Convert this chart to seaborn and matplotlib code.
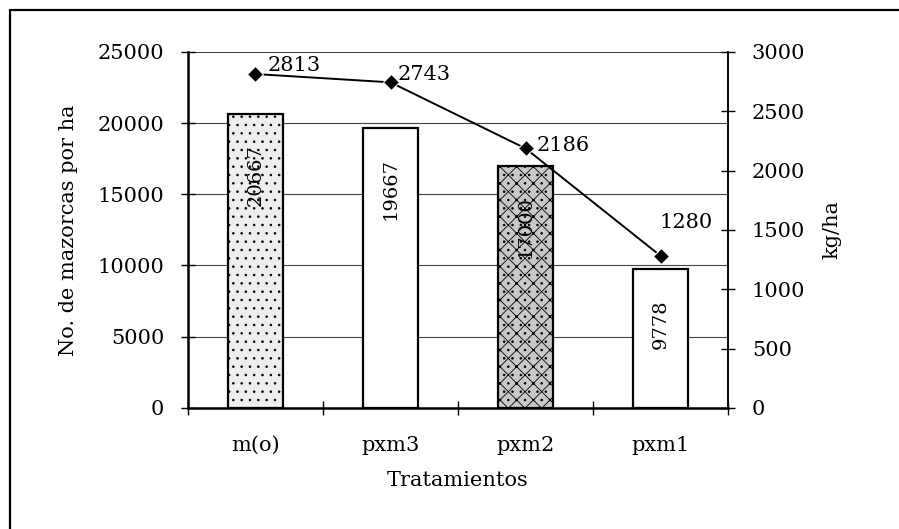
import pandas as pd
import seaborn as sns
import matplotlib.pyplot as plt
from matplotlib.lines import Line2D
from matplotlib.ticker import FixedLocator

# data
tratamientos = ['m(o)', 'pxm3', 'pxm2', 'pxm1']
mazorcas = [20667, 19667, 17000, 9778]
kg_ha = [2813, 2743, 2186, 1280]

bar_colors = ['#eeeeee', 'white', '#c8c8c8', 'white']
bar_hatches = ['..', '', 'xx..', '']

sns.set_theme(style='white')
plt.rcParams['font.family'] = ['DejaVu Serif']
plt.rcParams['hatch.color'] = '#8a8a8a'
plt.rcParams['hatch.linewidth'] = 0.6
for k in ['text.color', 'axes.labelcolor', 'xtick.color', 'ytick.color']:
    plt.rcParams[k] = 'black'

df = pd.DataFrame({'trat': tratamientos, 'maz': mazorcas, 'kg': kg_ha})

fig = plt.figure(figsize=(8.99, 5.29), dpi=100)
ax = fig.add_axes([0.209, 0.229, 0.601, 0.673])

sns.barplot(data=df, x='trat', y='maz', hue='trat', palette=bar_colors,
            width=0.41, edgecolor='black', linewidth=1.6, legend=False,
            ax=ax, zorder=3)
for p, h in zip(ax.patches, bar_hatches):
    p.set_hatch(h)

for i, v in enumerate(mazorcas):
    ax.annotate(str(v), (i, v), xytext=(0, -22), textcoords='offset points',
                rotation=90, ha='center', va='top', fontsize=14, zorder=5)

ax.set_ylim(0, 25000)
ax.set_xlim(-0.5, 3.5)
ax.set_yticks([0, 5000, 10000, 15000, 20000, 25000])
ax.yaxis.grid(True, color='#444444', linewidth=0.8)
ax.set_axisbelow(True)
ax.xaxis.set_minor_locator(FixedLocator([-0.5, 0.5, 1.5, 2.5, 3.5]))
ax.tick_params(axis='x', which='major', length=0, pad=20, labelsize=15)
ax.tick_params(axis='x', which='minor', direction='inout', length=10, width=1, color='black', bottom=True)
ax.tick_params(axis='y', direction='inout', length=10, width=1, color='black', left=True, pad=12, labelsize=15)
ax.set_xlabel('Tratamientos', fontsize=15, labelpad=12)
ax.set_ylabel('No. de mazorcas por ha', fontsize=15, labelpad=14)
for s in ['left', 'bottom']:
    ax.spines[s].set_color('black')
    ax.spines[s].set_linewidth(1.8)
ax.spines['top'].set_visible(False)

ax2 = ax.twinx()
sns.lineplot(data=df, x='trat', y='kg', sort=False, color='black',
             marker='D', markersize=8, linewidth=1.4, ax=ax2, zorder=6)
ax2.set_ylim(0, 3000)
ax2.set_yticks([0, 500, 1000, 1500, 2000, 2500, 3000])
ax2.tick_params(axis='y', direction='inout', length=10, width=1, color='black', right=True, pad=12, labelsize=15)
ax2.set_ylabel('kg/ha', fontsize=15, labelpad=12)
ax2.set_xlabel('')
for s in ['left', 'bottom', 'top']:
    ax2.spines[s].set_visible(False)
ax2.spines['right'].set_color('black')
ax2.spines['right'].set_linewidth(1.2)

label_offsets = [(9, 6), (5, 6), (8, 2), (-1, 24)]
for i, (v, off) in enumerate(zip(kg_ha, label_offsets)):
    ax2.annotate(str(v), (i, v), xytext=off, textcoords='offset points',
                 ha='left', va='center', fontsize=15)

# outer frame of the scanned figure
fig.add_artist(Line2D([0.011, 0.011], [0.0, 0.981], color='black', lw=1.6, transform=fig.transFigure))
fig.add_artist(Line2D([0.011, 1.0], [0.981, 0.981], color='black', lw=1.6, transform=fig.transFigure))

fig.savefig('out.png', dpi=100)
